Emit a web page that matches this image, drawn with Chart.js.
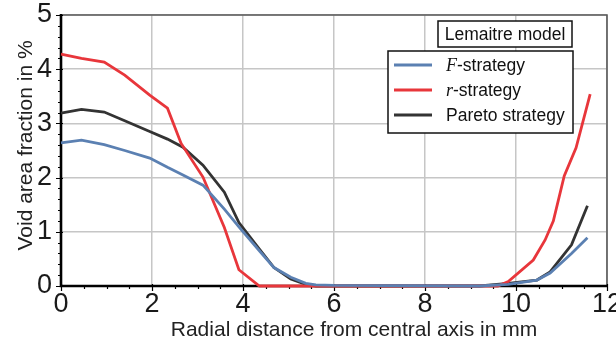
<!DOCTYPE html>
<html>
<head>
<meta charset="utf-8">
<script src="https://cdn.jsdelivr.net/npm/chart.js@4"></script>
<style>
  html, body { margin: 0; padding: 0; background: #fff; }
  #wrap { width: 616px; height: 344px; }
</style>
</head>
<body>
<div id="wrap"><canvas id="voidChart" width="616" height="344"></canvas></div>
<script>
// radial positions (mm) and void area fraction (%) per strategy
const radiusF = [0, 0.45, 0.95, 1.40, 1.95, 2.34, 2.68, 3.12, 3.59, 3.91, 4.36, 4.68, 5.05, 5.38, 5.6, 6.0, 9.2, 9.83, 10.46, 10.75, 11.22, 11.57];
const voidF   = [2.64, 2.69, 2.61, 2.50, 2.36, 2.19, 2.05, 1.86, 1.42, 1.09, 0.65, 0.34, 0.16, 0.05, 0.02, 0.01, 0, 0.03, 0.11, 0.24, 0.60, 0.89];

const radiusR = [0, 0.45, 0.95, 1.40, 1.95, 2.34, 2.64, 3.12, 3.59, 3.91, 4.36, 9.6, 9.83, 10.38, 10.64, 10.82, 11.06, 11.32, 11.63];
const voidR   = [4.28, 4.20, 4.13, 3.89, 3.52, 3.28, 2.63, 2.01, 1.08, 0.30, 0, 0, 0.08, 0.48, 0.85, 1.20, 2.03, 2.55, 3.54];

const radiusP = [0, 0.45, 0.95, 1.40, 1.95, 2.34, 2.68, 3.12, 3.59, 3.91, 4.36, 4.68, 5.05, 5.38, 5.6, 9.2, 9.83, 10.46, 10.75, 11.22, 11.57];
const voidP   = [3.19, 3.26, 3.21, 3.05, 2.85, 2.71, 2.56, 2.23, 1.73, 1.17, 0.68, 0.34, 0.13, 0.03, 0, 0, 0.05, 0.11, 0.26, 0.76, 1.48];

const xTicks = [0, 2, 4, 6, 8, 10, 12];
const yTicks = [0, 1, 2, 3, 4, 5];

const seriesLabels = ['F-strategy', 'r-strategy', 'Pareto strategy'];
const seriesColors = ['#5b80b2', '#e8363b', '#333333'];
const boxTitle = 'Lemaitre model';

const SANS = '"Liberation Sans", Arial, sans-serif';
const SERIF = '"Liberation Serif", "DejaVu Serif", serif';

function toPoints(xs, ys) {
  return xs.map((x, i) => ({ x: x, y: ys[i] }));
}

// axis frame, minor ticks and axis titles
const framePlugin = {
  id: 'frame',
  beforeDatasetsDraw(chart) {
    const { ctx, chartArea: a, scales: { x, y } } = chart;
    ctx.save();
    // top + right border
    ctx.strokeStyle = '#5a5a5a';
    ctx.lineWidth = 1.6;
    ctx.beginPath();
    ctx.moveTo(a.left, a.top);
    ctx.lineTo(a.right, a.top);
    ctx.lineTo(a.right, a.bottom);
    ctx.stroke();

    ctx.strokeStyle = '#000';
    // tick marks
    ctx.lineWidth = 1.2;
    ctx.beginPath();
    for (let v = 0; v <= 5.0001; v += 0.2) {
      const py = Math.round(y.getPixelForValue(v)) + 0.5;
      const major = Math.abs(v - Math.round(v)) < 1e-6;
      ctx.moveTo(a.left - (major ? 5 : 3), py);
      ctx.lineTo(a.left + (major ? 2 : 0), py);
    }
    for (let v = 0; v <= 12.0001; v += 0.5) {
      const px = Math.round(x.getPixelForValue(v)) + 0.5;
      const major = Math.abs(v / 2 - Math.round(v / 2)) < 1e-6;
      ctx.moveTo(px, a.bottom + (major ? 5 : 3));
      ctx.lineTo(px, a.bottom - (major ? 2 : 0));
    }
    ctx.stroke();

    // left + bottom axis
    ctx.lineWidth = 2.6;
    ctx.beginPath();
    ctx.moveTo(a.left, a.top - 1);
    ctx.lineTo(a.left, a.bottom);
    ctx.lineTo(a.right + 1, a.bottom);
    ctx.stroke();

    // axis titles
    ctx.fillStyle = '#222';
    ctx.font = '21px ' + SANS;
    ctx.textAlign = 'center';
    ctx.textBaseline = 'alphabetic';
    ctx.fillText('Radial distance from central axis in mm', (a.left + a.right) / 2 + 20, 336);
    ctx.translate(32, (a.top + a.bottom) / 2 - 5);
    ctx.rotate(-Math.PI / 2);
    ctx.fillText('Void area fraction in %', 0, 0);
    ctx.restore();
  },
  afterDraw(chart) {
    const { ctx, chartArea: a } = chart;
    ctx.save();
    ctx.lineWidth = 1.5;
    ctx.strokeStyle = '#111';
    ctx.fillStyle = '#fff';

    // model title box
    const tb = { l: a.right - 169, t: 21, w: 134, h: 26 };
    ctx.fillRect(tb.l, tb.t, tb.w, tb.h);
    ctx.strokeRect(tb.l, tb.t, tb.w, tb.h);
    ctx.fillStyle = '#111';
    ctx.font = '17.5px ' + SANS;
    ctx.textAlign = 'center';
    ctx.textBaseline = 'middle';
    ctx.fillText(boxTitle, tb.l + tb.w / 2, tb.t + tb.h / 2 + 1);

    // legend box
    const lb = { l: a.right - 219, t: 51, w: 185, h: 82 };
    ctx.fillStyle = '#fff';
    ctx.fillRect(lb.l, lb.t, lb.w, lb.h);
    ctx.strokeRect(lb.l, lb.t, lb.w, lb.h);
    ctx.textAlign = 'left';
    seriesLabels.forEach((lbl, i) => {
      const ry = lb.t + 14 + i * 25;
      ctx.strokeStyle = seriesColors[i];
      ctx.lineWidth = 2.8;
      ctx.beginPath();
      ctx.moveTo(lb.l + 6, ry);
      ctx.lineTo(lb.l + 44, ry);
      ctx.stroke();
      ctx.fillStyle = '#111';
      let tx = lb.l + 58;
      if (i < 2) {
        // symbol in italic serif, rest in sans
        const sym = lbl.charAt(0);
        ctx.font = 'italic 18px ' + SERIF;
        ctx.fillText(sym, tx, ry + 1);
        tx += ctx.measureText(sym).width;
        ctx.font = '17.5px ' + SANS;
        ctx.fillText(lbl.slice(1), tx, ry + 1);
      } else {
        ctx.font = '17.5px ' + SANS;
        ctx.fillText(lbl, tx, ry + 1);
      }
    });
    ctx.restore();
  }
};

// lower order is painted last: F on top, then r, Pareto underneath
const datasets = [
  { label: seriesLabels[0], data: toPoints(radiusF, voidF), borderColor: seriesColors[0], order: 1 },
  { label: seriesLabels[1], data: toPoints(radiusR, voidR), borderColor: seriesColors[1], order: 2 },
  { label: seriesLabels[2], data: toPoints(radiusP, voidP), borderColor: seriesColors[2], order: 3 }
].map(d => Object.assign(d, {
  borderWidth: 2.8,
  pointRadius: 0,
  tension: 0,
  fill: false,
  clip: 4
}));

new Chart(document.getElementById('voidChart'), {
  type: 'line',
  data: { datasets: datasets },
  plugins: [framePlugin],
  options: {
    responsive: false,
    animation: false,
    layout: { padding: { left: 0, right: 9, top: 15, bottom: 0 } },
    plugins: {
      legend: { display: false },
      tooltip: { enabled: false }
    },
    scales: {
      x: {
        type: 'linear',
        min: 0,
        max: 12,
        afterBuildTicks(scale) { scale.ticks = xTicks.map(v => ({ value: v })); },
        afterFit(scale) {
          scale.height = 58;
          scale.paddingLeft = 0;
          scale.paddingRight = 0;
        },
        grid: { color: '#c6c6c6', lineWidth: 1.5, drawTicks: false },
        border: { display: false },
        ticks: {
          padding: 2,
          maxRotation: 0,
          color: '#1a1a1a',
          font: { family: SANS, size: 27 }
        }
      },
      y: {
        min: 0,
        max: 5,
        afterBuildTicks(scale) { scale.ticks = yTicks.map(v => ({ value: v })); },
        afterFit(scale) {
          scale.width = 61;
          scale.paddingTop = 0;
          scale.paddingBottom = 0;
        },
        grid: { color: '#c6c6c6', lineWidth: 1.5, drawTicks: false },
        border: { display: false },
        ticks: {
          padding: 9,
          color: '#1a1a1a',
          font: { family: SANS, size: 27 }
        }
      }
    }
  }
});
</script>
</body>
</html>
